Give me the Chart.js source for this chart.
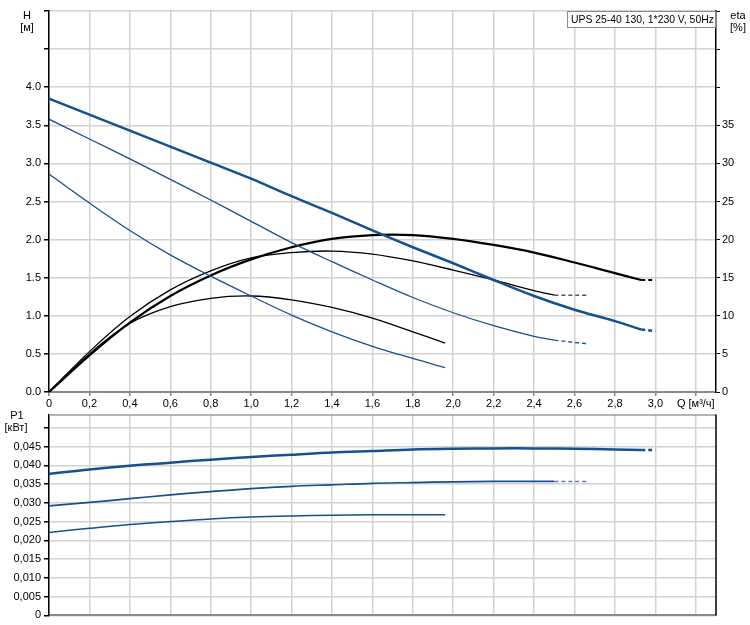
<!DOCTYPE html>
<html>
<head>
<meta charset="utf-8">
<script src="https://cdn.jsdelivr.net/npm/chart.js@4/dist/chart.umd.min.js"></script>
<style>
  html, body { margin: 0; padding: 0; background: #fff; }
  #wrap { position: relative; width: 750px; height: 625px; overflow: hidden; }
  canvas { position: absolute; left: 0; }
  #top { top: 0; }
  #bot { top: 405px; }
</style>
</head>
<body>
<div id="wrap">
  <canvas id="top" width="750" height="412"></canvas>
  <canvas id="bot" width="750" height="220"></canvas>
</div>
<script>
// ---- Data ----
const q3 = [0, 0.2, 0.4, 0.6, 0.8, 1.0, 1.2, 1.4, 1.6, 1.8, 2.0, 2.2, 2.4, 2.6, 2.8, 2.93];
const h3 = [3.85, 3.64, 3.43, 3.22, 3.01, 2.80, 2.57, 2.35, 2.12, 1.90, 1.69, 1.47, 1.26, 1.08, 0.93, 0.82];
const eta3 = [0, 4.8, 9.1, 12.6, 15.3, 17.4, 19.0, 20.1, 20.6, 20.6, 20.1, 19.3, 18.3, 17.0, 15.6, 14.7];
const p3 = [0.0377, 0.0389, 0.0399, 0.0407, 0.0415, 0.0422, 0.0428, 0.0434, 0.0438, 0.0442, 0.0444, 0.0445, 0.0445, 0.0444, 0.0442, 0.0441];
const q3d = [2.93, 3.0];
const h3d = [0.82, 0.80];
const eta3d = [14.7, 14.7];
const p3d = [0.0441, 0.0441];

const q2 = [0, 0.2, 0.4, 0.6, 0.8, 1.0, 1.2, 1.4, 1.6, 1.8, 2.0, 2.2, 2.4, 2.5];
const h2 = [3.58, 3.32, 3.06, 2.79, 2.52, 2.24, 1.96, 1.71, 1.47, 1.24, 1.04, 0.87, 0.73, 0.68];
const eta2 = [0, 5.3, 9.9, 13.4, 15.9, 17.6, 18.3, 18.5, 18.1, 17.2, 16.0, 14.7, 13.3, 12.7];
const p2 = [0.0292, 0.0301, 0.0311, 0.0321, 0.0330, 0.0338, 0.0344, 0.0348, 0.0352, 0.0354, 0.0356, 0.0357, 0.0357, 0.0357];
const q2d = [2.5, 2.67];
const h2d = [0.68, 0.63];
const eta2d = [12.7, 12.7];
const p2d = [0.0357, 0.0357];

const q1 = [0, 0.2, 0.4, 0.6, 0.8, 1.0, 1.2, 1.4, 1.6, 1.8, 1.96];
const h1 = [2.86, 2.48, 2.12, 1.80, 1.52, 1.26, 1.01, 0.79, 0.60, 0.44, 0.32];
const eta1 = [0, 5.0, 9.0, 11.2, 12.3, 12.6, 12.1, 11.1, 9.7, 7.9, 6.4];
const p1 = [0.0221, 0.0232, 0.0242, 0.0250, 0.0257, 0.0262, 0.0265, 0.0267, 0.0268, 0.0268, 0.0268];

// ---- Tick values and labels ----
const xTicks = [0, 0.2, 0.4, 0.6, 0.8, 1.0, 1.2, 1.4, 1.6, 1.8, 2.0, 2.2, 2.4, 2.6, 2.8, 3.0, 3.2];
const xTickLabels = ['0', '0,2', '0,4', '0,6', '0,8', '1,0', '1,2', '1,4', '1,6', '1,8', '2,0', '2,2', '2,4', '2,6', '2,8', '3,0', 'Q [м³/ч]'];
const hTicks = [0, 0.5, 1.0, 1.5, 2.0, 2.5, 3.0, 3.5, 4.0, 4.5, 5.0];
const hTickLabels = ['0.0', '0.5', '1.0', '1.5', '2.0', '2.5', '3.0', '3.5', '4.0', '', ''];
const etaTicks = [0, 5, 10, 15, 20, 25, 30, 35, 40, 45, 50];
const etaTickLabels = ['0', '5', '10', '15', '20', '25', '30', '35', '', '', ''];
const pTicks = [0, 0.005, 0.010, 0.015, 0.020, 0.025, 0.030, 0.035, 0.040, 0.045, 0.050];
const pTickLabels = ['0', '0,005', '0,010', '0,015', '0,020', '0,025', '0,030', '0,035', '0,040', '0,045', ''];

const title = 'UPS 25-40 130, 1*230 V, 50Hz';

// ---- Styles ----
const BLUE = '#16508f';
const BLACK = '#000000';
const GRID = '#d2d2d2';
const FONT = "'Liberation Sans', Arial, sans-serif";

Chart.defaults.font.family = FONT;
Chart.defaults.font.size = 11;
Chart.defaults.color = '#000';

function pts(xs, ys) { return xs.map((x, i) => ({ x: x, y: ys[i] })); }
function ds(xs, ys, color, width, axis, dashed) {
  return {
    data: pts(xs, ys), borderColor: color, borderWidth: width,
    borderDash: dashed ? [4, 3] : [], pointRadius: 0, fill: false,
    tension: 0.35, yAxisID: axis
  };
}
function setTicks(values) {
  return function (scale) { scale.ticks = values.map(v => ({ value: v })); };
}

const textPluginTop = {
  id: 'textTop',
  afterDraw(chart) {
    const c = chart.ctx, a = chart.chartArea;
    c.save();
    c.font = '11px ' + FONT;
    c.fillStyle = '#000';
    c.textAlign = 'center';
    c.textBaseline = 'middle';
    c.fillText('H', 27, 16);
    c.fillText('[м]', 27, 28);
    c.fillText('eta', 738, 16);
    c.fillText('[%]', 738, 28);
    // title box
    c.font = '10.4px ' + FONT;
    const w = 149;
    const bx = a.right - w, by = a.top, bh = 17;
    c.fillStyle = '#fff';
    c.fillRect(bx, by, w, bh);
    c.strokeStyle = '#8c8c8c';
    c.lineWidth = 1;
    c.strokeRect(bx + 0.5, by + 0.5, w - 1, bh - 1);
    c.fillStyle = '#000';
    c.textAlign = 'left';
    c.fillText(title, bx + 4, by + bh / 2 + 0.5);
    c.restore();
  }
};

const textPluginBot = {
  id: 'textBot',
  afterDraw(chart) {
    const c = chart.ctx, a = chart.chartArea;
    c.save();
    c.font = '11px ' + FONT;
    c.fillStyle = '#000';
    c.textAlign = 'center';
    c.textBaseline = 'middle';
    c.fillText('P1', 17, 11);
    c.fillText('[кВт]', 16, 23);
    c.strokeStyle = '#9a9a9a';
    c.lineWidth = 1.5;
    c.beginPath();
    c.moveTo(a.left, a.top + 0.5);
    c.lineTo(a.right, a.top + 0.5);
    c.stroke();
    c.strokeStyle = '#000';
    c.beginPath();
    c.moveTo(a.right, a.top);
    c.lineTo(a.right, a.bottom);
    c.stroke();
    c.restore();
  }
};

new Chart(document.getElementById('top'), {
  type: 'line',
  data: {
    datasets: [
      ds(q3, h3, BLUE, 2.5, 'y', false),
      ds(q3d, h3d, BLUE, 2.5, 'y', true),
      ds(q2, h2, BLUE, 1.3, 'y', false),
      ds(q2d, h2d, BLUE, 1.3, 'y', true),
      ds(q1, h1, BLUE, 1.3, 'y', false),
      ds(q3, eta3, BLACK, 2.2, 'y2', false),
      ds(q3d, eta3d, BLACK, 2.2, 'y2', true),
      ds(q2, eta2, BLACK, 1.3, 'y2', false),
      ds(q2d, eta2d, '#555', 1.3, 'y2', true),
      ds(q1, eta1, BLACK, 1.3, 'y2', false)
    ]
  },
  options: {
    responsive: false, animation: false, devicePixelRatio: 1,
    layout: { padding: { top: 11, left: 0, right: 0, bottom: 0 } },
    plugins: { legend: { display: false }, tooltip: { enabled: false } },
    scales: {
      x: {
        type: 'linear', min: 0, max: 3.3,
        afterBuildTicks: setTicks(xTicks),
        afterFit(s) { s.height = 20; },
        ticks: { callback: (v, i) => xTickLabels[i], maxRotation: 0, autoSkip: false, padding: 1 },
        grid: { color: GRID, lineWidth: 1.5, tickColor: '#888', tickLength: 4 },
        border: { color: '#8a8a8a', width: 2 }
      },
      y: {
        position: 'left', min: 0, max: 5.0,
        afterBuildTicks: setTicks(hTicks),
        afterFit(s) { s.width = 49; },
        ticks: { callback: (v, i) => hTickLabels[i], autoSkip: false, padding: 3 },
        grid: { color: GRID, lineWidth: 1.5, tickColor: '#000', tickLength: 5 },
        border: { color: '#000', width: 1.5 }
      },
      y2: {
        position: 'right', min: 0, max: 50,
        afterBuildTicks: setTicks(etaTicks),
        afterFit(s) { s.width = 34; },
        ticks: { callback: (v, i) => etaTickLabels[i], autoSkip: false, padding: 2 },
        grid: { drawOnChartArea: false, tickColor: '#000', tickLength: 4 },
        border: { color: '#000', width: 1.5 }
      }
    }
  },
  plugins: [textPluginTop]
});

new Chart(document.getElementById('bot'), {
  type: 'line',
  data: {
    datasets: [
      ds(q3, p3, BLUE, 2.5, 'y', false),
      ds(q3d, p3d, BLUE, 2.5, 'y', true),
      ds(q2, p2, BLUE, 1.7, 'y', false),
      ds(q2d, p2d, '#5a7fae', 1.5, 'y', true),
      ds(q1, p1, BLUE, 1.5, 'y', false)
    ]
  },
  options: {
    responsive: false, animation: false, devicePixelRatio: 1,
    layout: { padding: { top: 6, left: 0, right: 34, bottom: 0 } },
    plugins: { legend: { display: false }, tooltip: { enabled: false } },
    scales: {
      x: {
        type: 'linear', min: 0, max: 3.3,
        afterBuildTicks: setTicks(xTicks),
        afterFit(s) { s.height = 3; },
        ticks: { display: false },
        grid: { color: GRID, lineWidth: 1.5, drawTicks: false },
        border: { color: '#8a8a8a', width: 2 }
      },
      y: {
        position: 'left', min: 0, max: 0.0535,
        afterBuildTicks: setTicks(pTicks),
        afterFit(s) { s.width = 49; },
        ticks: { callback: (v, i) => pTickLabels[i], autoSkip: false, padding: 3 },
        grid: { color: GRID, lineWidth: 1.5, tickColor: '#000', tickLength: 5 },
        border: { color: '#000', width: 1.5 }
      }
    }
  },
  plugins: [textPluginBot]
});
</script>
</body>
</html>
